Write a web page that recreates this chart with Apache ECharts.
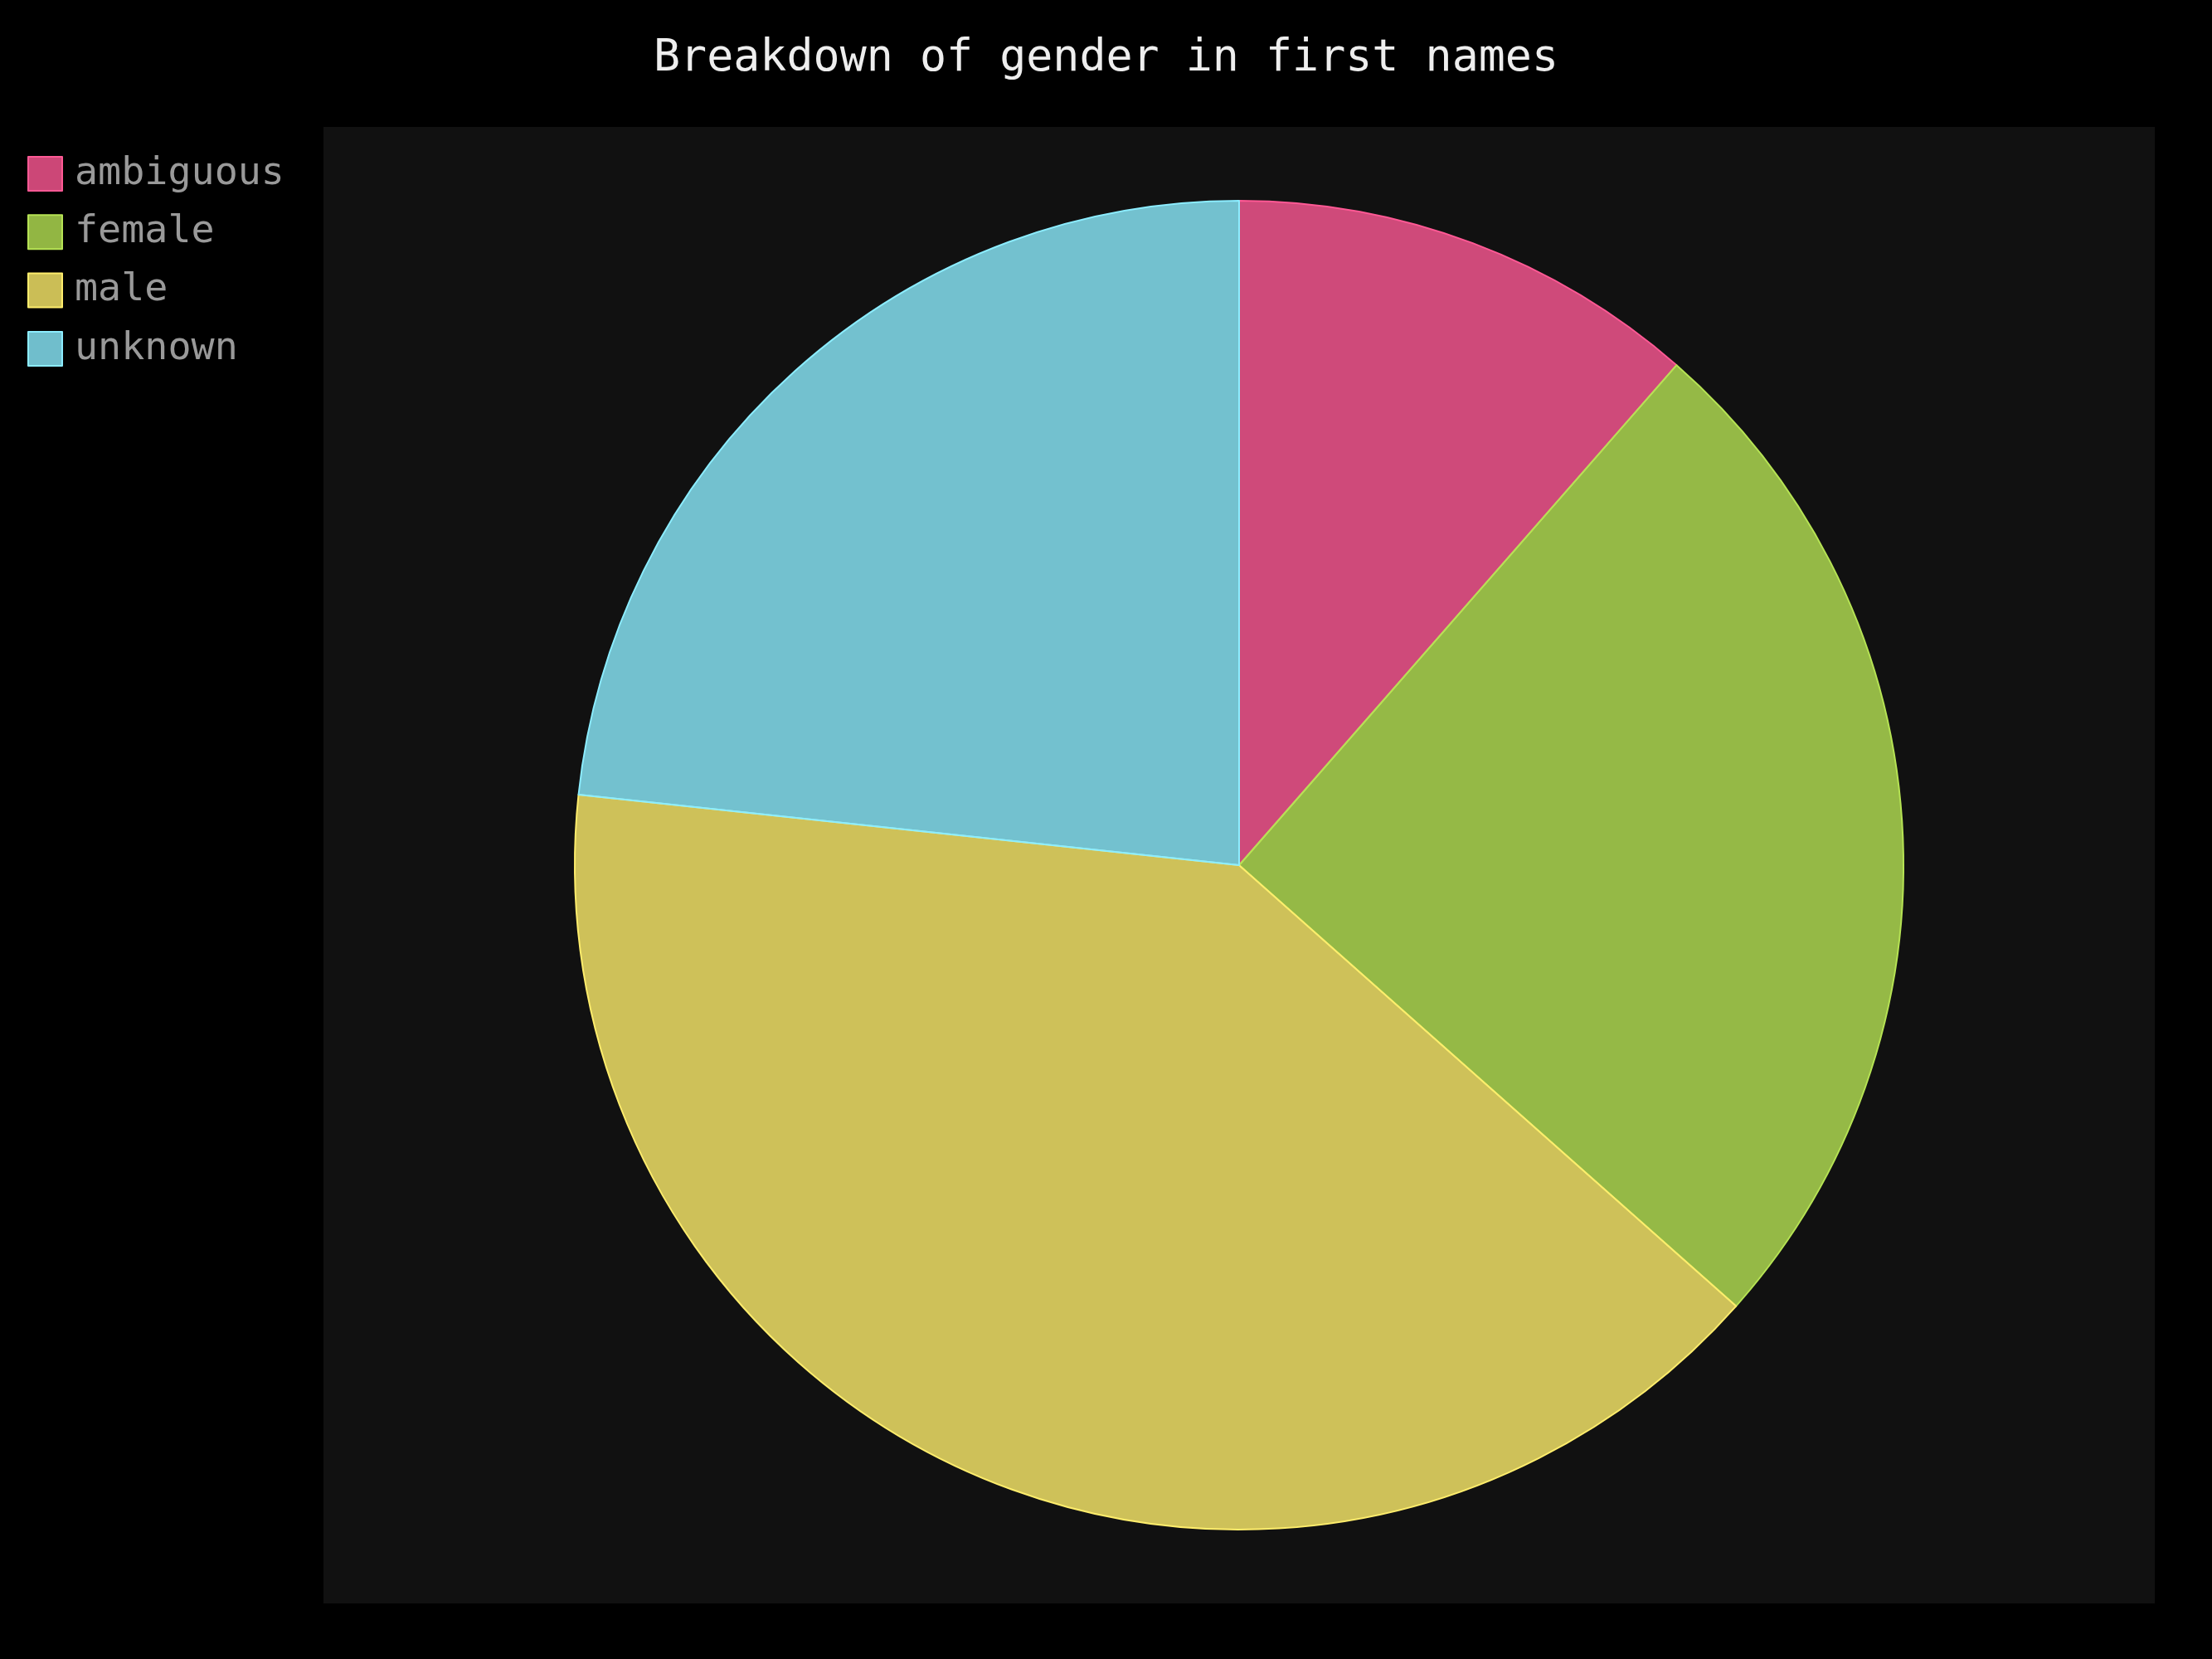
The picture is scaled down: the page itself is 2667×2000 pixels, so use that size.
<!DOCTYPE html>
<html>
<head>
<meta charset="utf-8">
<script src="https://cdn.jsdelivr.net/npm/echarts@6/dist/echarts.min.js"></script>
<style>
  html, body { margin: 0; padding: 0; background: #000; }
  #chart { width: 2667px; height: 2000px; }
</style>
</head>
<body>
<div id="chart"></div>
<script>
// share of each gender class
const categories = ['ambiguous', 'female', 'male', 'unknown'];
const shares = [11.44, 25.11, 40.14, 23.31];
const colors = ['#ff5995', '#b6e354', '#feed6c', '#8cedff'];

const fade = (hex, a) => {
  const n = parseInt(hex.slice(1), 16);
  return 'rgba(' + (n >> 16) + ',' + ((n >> 8) & 255) + ',' + (n & 255) + ',' + a + ')';
};

const chart = echarts.init(document.getElementById('chart'));

const option = {
  backgroundColor: '#000',
  animation: false,
  title: {
    text: 'Breakdown of gender in first names',
    left: 'center',
    top: 40,
    textStyle: {
      color: '#eee',
      fontFamily: 'DejaVu Sans Mono',
      fontWeight: 'normal',
      fontSize: 53.3
    }
  },
  legend: {
    orient: 'vertical',
    left: 28,
    top: 181,
    icon: 'rect',
    itemWidth: 41,
    itemHeight: 41,
    itemGap: 23.3,
    selectedMode: false,
    textStyle: {
      color: '#999',
      fontFamily: 'DejaVu Sans Mono',
      fontSize: 46.7,
      padding: [0, 0, 0, 10]
    },
    data: categories
  },
  graphic: [
    {
      type: 'rect',
      z: -1,
      shape: { x: 390, y: 153, width: 2208, height: 1780 },
      style: { fill: '#111' },
      silent: true
    }
  ],
  series: [
    {
      type: 'pie',
      center: [1494, 1043],
      radius: [0, 801],
      startAngle: 90,
      clockwise: true,
      label: { show: false },
      labelLine: { show: false },
      emphasis: { disabled: true },
      data: categories.map((name, i) => ({
        name: name,
        value: shares[i],
        itemStyle: {
          color: fade(colors[i], 0.8),
          borderColor: colors[i],
          borderWidth: 2
        }
      }))
    }
  ]
};

chart.setOption(option);
</script>
</body>
</html>
